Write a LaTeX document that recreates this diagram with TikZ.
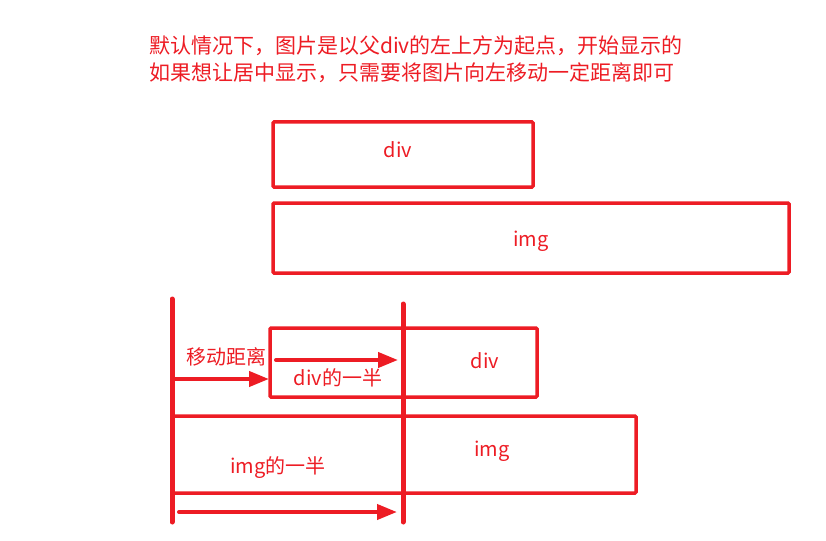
\documentclass[tikz,border=0pt]{standalone}
\usepackage{fontspec}
\setmainfont{Noto Sans CJK SC}
\usetikzlibrary{arrows.meta}
\definecolor{myred}{HTML}{ED1C24}
\tikzset{
  box/.style={draw=myred, line width=3.5pt, rounded corners=1pt},
  vline/.style={draw=myred, line width=5pt, line cap=round},
  arr/.style={draw=myred, line width=4pt, line cap=round, -{Triangle[length=20pt,width=15pt]}},
  lbl/.style={text=myred, font=\fontsize{20pt}{22pt}\selectfont, inner sep=0pt},
}
\begin{document}
\begin{tikzpicture}[x=1pt,y=-1pt]
\useasboundingbox (0,0) rectangle (826,540);
\node[lbl, anchor=west, align=left, font=\fontsize{21pt}{27pt}\selectfont] (title) at (149,59)
 {默认情况下，图片是以父div的左上方为起点，开始显示的\\如果想让居中显示，只需要将图片向左移动一定距离即可};
% top boxes
\draw[box] (273,122) rectangle (533,187);
\node[lbl] (div1) at (398,150) {div};
\draw[box] (273,203) rectangle (789,273);
\node[lbl] (img1) at (531,241) {img};
% lower part
\draw[box] (270,328) rectangle (537,397);
\node[lbl] (div2) at (485,361) {div};
\draw[box] (172,416) rectangle (636,493);
\node[lbl] (img2) at (492,451) {img};
\coordinate (l1) at (172,299);
\coordinate (l2) at (172,522);
\coordinate (m1) at (403,304);
\coordinate (m2) at (403,522);
\draw[vline] (l1) -- (l2);
\draw[vline] (m1) -- (m2);
\node[lbl] (move) at (226,357) {移动距离};
\node[lbl] (halfdiv) at (338,378) {div的一半};
\node[lbl] (halfimg) at (278,468) {img的一半};
\coordinate (a1s) at (174,379);
\coordinate (a1e) at (269,379);
\coordinate (a2s) at (276,360);
\coordinate (a2e) at (398,360);
\coordinate (a3s) at (179,512);
\coordinate (a3e) at (397,512);
\draw[arr] (a1s) -- (a1e);
\draw[arr] (a2s) -- (a2e);
\draw[arr] (a3s) -- (a3e);
\end{tikzpicture}
\end{document}
